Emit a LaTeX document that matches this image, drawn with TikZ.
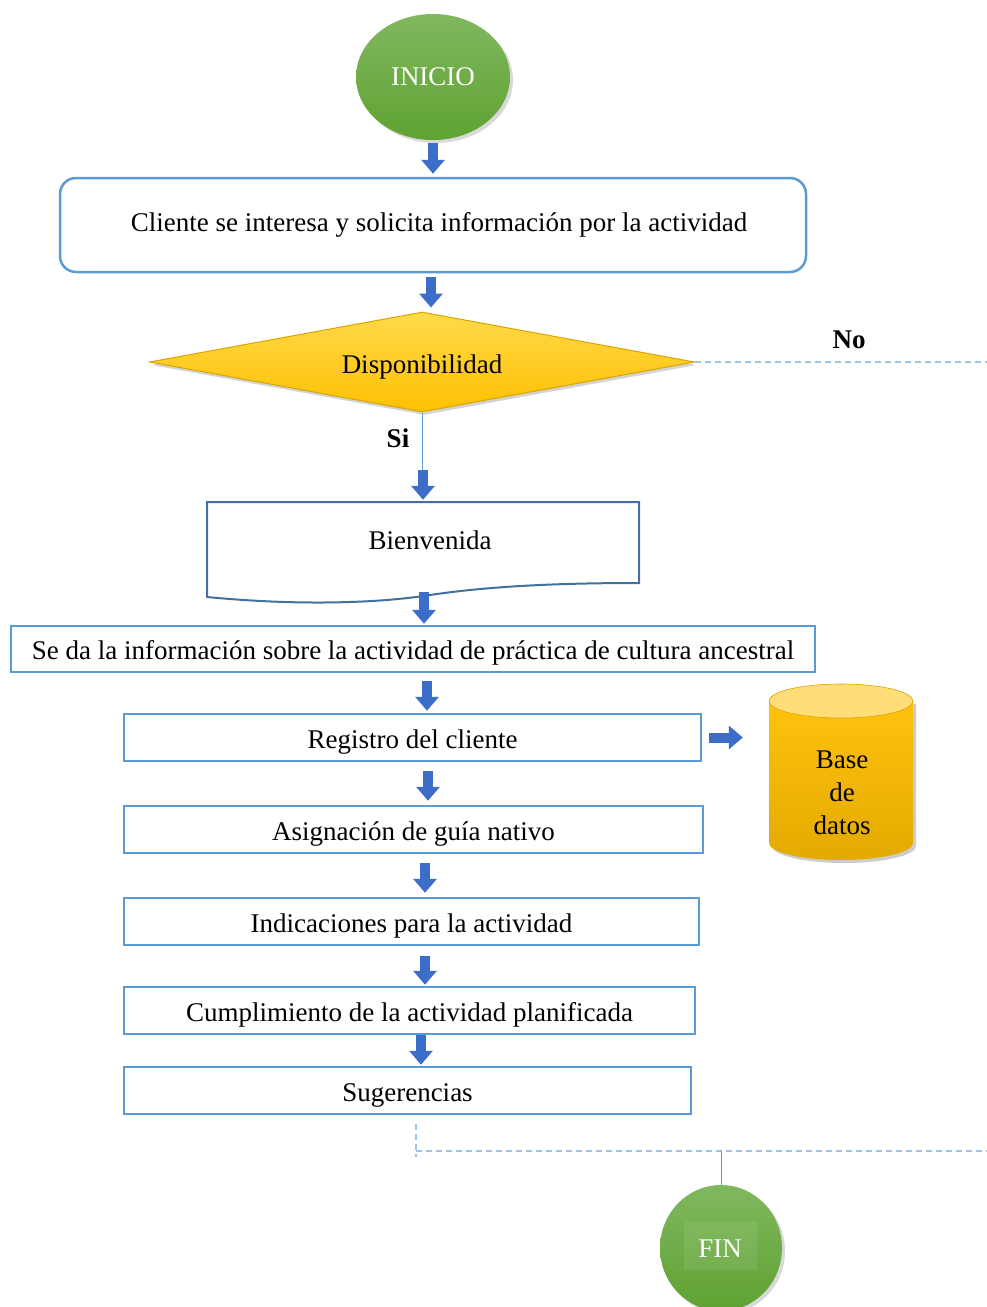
\documentclass[tikz,border=0pt]{standalone}
\usepackage{fontspec}
\setmainfont{Liberation Serif}
\usetikzlibrary{shapes.geometric,arrows.meta,shadows,calc}
\definecolor{boxblue}{HTML}{5B9BD5}
\definecolor{docblue}{HTML}{41719C}
\definecolor{arrowblue}{HTML}{3C6DC8}
\definecolor{dashblue}{HTML}{9DC3E6}
\definecolor{greentop}{HTML}{80B85F}
\definecolor{greenbot}{HTML}{5FA232}
\definecolor{goldtop}{HTML}{FFDA4A}
\definecolor{goldbot}{HTML}{FFC000}
\definecolor{goldedge}{HTML}{D9A400}
\definecolor{dbtop}{HTML}{FFDE7A}
\definecolor{dbbody}{HTML}{FFC20E}
\definecolor{dbbot}{HTML}{E3AA00}
\tikzset{
  procbox/.style={draw=boxblue, line width=2.5pt, fill=white, inner sep=0pt, minimum height=47pt},
  lowtext/.style={text height=24pt, text depth=3pt},
  blk/.style={draw=arrowblue, line width=10pt, -{Triangle[length=14pt 0,width=23pt 0]}},
  terminal/.style={ellipse, inner sep=0pt, top color=greentop, bottom color=greenbot, text=white,
     drop shadow={opacity=0.3, shadow xshift=3pt, shadow yshift=-3pt}},
  dashln/.style={draw=dashblue, line width=1.3pt, dash pattern=on 6pt off 4pt},
  thinln/.style={draw=boxblue, line width=0.8pt},
  lbl/.style={font=\fontsize{27}{33}\selectfont\bfseries}
}
\begin{document}
\begin{tikzpicture}[x=1pt,y=-1pt, font=\fontsize{27}{33}\selectfont]
\useasboundingbox (0,0) rectangle (987,1307);

% nodes
\node[terminal, minimum width=154pt, minimum height=126pt] (inicio) at (433,77) {INICIO};
\node[procbox, rounded corners=16pt, minimum width=746pt, minimum height=94pt] (cliente) at (433,225)
  {\hspace*{12pt}Cliente se interesa y solicita información por la actividad};
\node[diamond, aspect=5.45, inner sep=0pt, minimum width=545pt, minimum height=100pt,
  text height=25pt, text depth=2pt,
  top color=goldtop, bottom color=goldbot, draw=goldedge, line width=1pt,
  drop shadow={opacity=0.35, shadow xshift=2pt, shadow yshift=-3pt}] (disp) at (422,362) {Disponibilidad};
\node[lbl] (no) at (849,340) {No};
\node[lbl] (si) at (398,438) {Si};
\node[inner sep=0pt, minimum width=432pt, minimum height=76pt] (bien) at (423,540) {};
\node[procbox, lowtext, minimum width=804pt, minimum height=46pt] (info) at (413,649)
  {Se da la información sobre la actividad de práctica de cultura ancestral};
\node[procbox, lowtext, minimum width=577pt] (reg) at (412.5,737.5) {Registro del cliente};
\node[procbox, lowtext, minimum width=579pt] (asig) at (413.5,829.5) {Asignación de guía nativo};
\node[procbox, lowtext, minimum width=575pt] (ind) at (411.5,921.5) {Indicaciones para la actividad};
\node[procbox, lowtext, minimum width=571pt] (cum) at (409.5,1010.5) {Cumplimiento de la actividad planificada};
\node[procbox, lowtext, minimum width=567pt] (sug) at (407.5,1090.5) {Sugerencias};

% document shape for Bienvenida
\draw[docblue, line width=2pt, fill=white]
  (207,502) -- (639,502) -- (639,583)
  .. controls (560,583) and (490,586) .. (430,595)
  .. controls (380,603) and (300,606) .. (207,597) -- cycle;
\node[inner sep=0pt] (bientxt) at ([xshift=7pt]bien.center) {Bienvenida};

% database cylinder
\fill[black, opacity=0.2] (772,704) -- (772,846) arc[start angle=180, end angle=0, x radius=72, y radius=17] -- (916,704) -- cycle;
\shade[top color=dbbody, bottom color=dbbot] (769,701) -- (769,843) arc[start angle=180, end angle=0, x radius=72, y radius=17] -- (913,701) -- cycle;
\draw[fill=dbtop, draw=goldedge, line width=0.6pt] (841,701) ellipse [x radius=72, y radius=17];
\node[align=center, inner sep=0pt, minimum width=144pt] (db) at (842,793) {Base\\de\\datos};

% FIN terminal
\node[terminal, minimum width=122pt, minimum height=126pt] (fin) at (721,1248) {};
\node[fill=white, fill opacity=0.08, text opacity=1, text=white, minimum width=73pt, minimum height=48pt,
  inner sep=0pt, text height=22pt, text depth=0pt] (fintxt) at (720,1246) {FIN};

% arrow columns
\coordinate (c1) at (433,0);
\coordinate (c2) at (431,0);
\coordinate (sipt) at (423,470);
\coordinate (bw) at (424,592);
\coordinate (c5) at (427,0);
\coordinate (c6) at (428,0);
\coordinate (c7) at (425,0);
\coordinate (c8) at (425,0);
\coordinate (c9) at (421,0);

% connectors
\draw[blk, shorten <=3pt, shorten >=3pt] (inicio.south -| c1) -- (cliente.north -| c1);
\draw[blk, shorten <=4pt, shorten >=4pt] (cliente.south -| c2) -- (disp.north -| c2);
\draw[thinln] (disp.south) -- (disp.south |- sipt);
\draw[blk, shorten >=2pt] (sipt) -- (bien.north -| sipt);
\draw[blk, shorten >=1pt] (bw) -- (info.north -| bw);
\draw[blk, shorten <=8pt, shorten >=2pt] (info.south -| c5) -- (reg.north -| c5);
\draw[blk, shorten <=9pt, shorten >=4pt] (reg.south -| c6) -- (asig.north -| c6);
\draw[blk, shorten <=9pt, shorten >=4pt] (asig.south -| c7) -- (ind.north -| c7);
\draw[blk, shorten <=10pt, shorten >=1pt] (ind.south -| c8) -- (cum.north -| c8);
\draw[blk, shorten >=1pt] (cum.south -| c9) -- (sug.north -| c9);
\draw[blk, shorten <=7pt, shorten >=27pt] (reg.east) -- (reg.east -| db.west);

% No branch and return lines
\coordinate (noend) at (987,362);
\draw[dashln] (disp.east) -- (noend);
\coordinate (j1) at (416,1124);
\coordinate (j2) at (416,1157);
\coordinate (j3) at (416,1151);
\coordinate (j4) at (987,1151);
\draw[dashln] (j1) -- (j2);
\draw[dashln] (j3) -- (j4);
\draw[thinln] (fin.north |- j3) -- (fin.north);
\end{tikzpicture}
\end{document}
